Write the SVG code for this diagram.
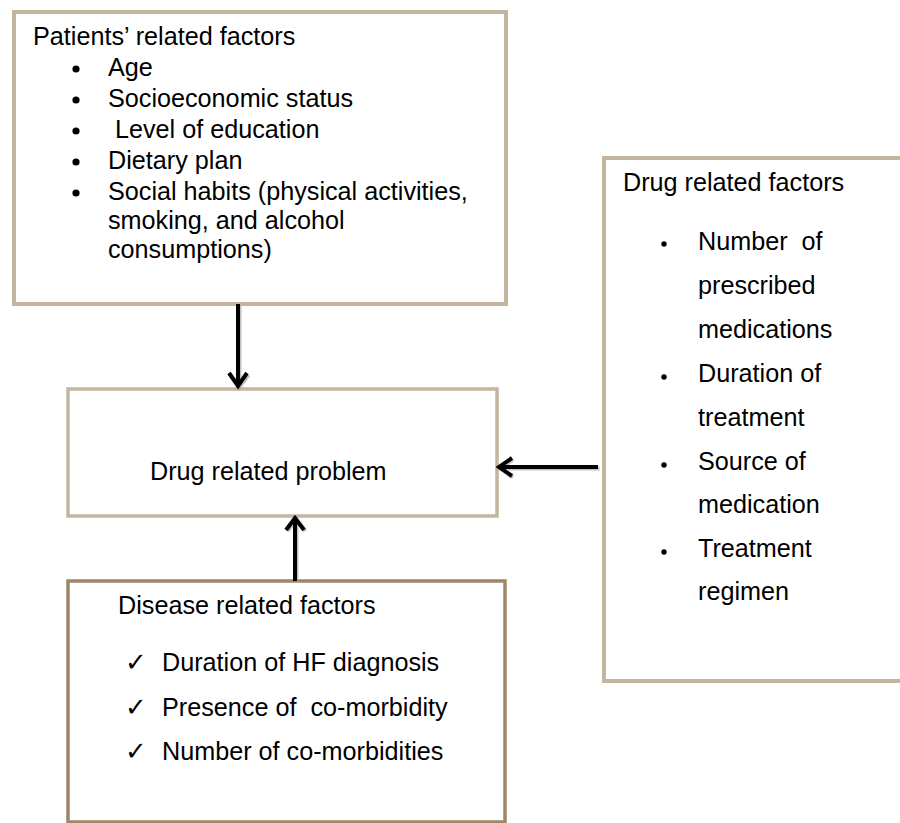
<svg xmlns="http://www.w3.org/2000/svg" width="900" height="823" viewBox="0 0 900 823">
<style>
.t{font-family:"Liberation Sans",Arial,sans-serif;font-size:25.2px;fill:#000;white-space:pre}
.ck{font-family:"DejaVu Sans",sans-serif;font-size:26px;fill:#000}
.dot{fill:#000}
.box{fill:#fff;stroke:#c4b5a0}
.dbox{fill:#fff;stroke:#9f8668;stroke-width:3.5}
.ln{fill:none;stroke:#000;stroke-width:4;stroke-linecap:butt;stroke-linejoin:miter}
.sh{fill:none;stroke:#9a9a9a;stroke-width:4;opacity:0.6}
</style>
<rect width="900" height="823" fill="#fff"/>
<g id="patients">
<rect class="box" x="14" y="12" width="492" height="292" stroke-width="4"/>
<text class="t" x="33" y="45">Patients’ related factors</text>
<circle class="dot" cx="76" cy="69" r="3.6"/><text class="t" x="108" y="76">Age</text>
<circle class="dot" cx="76" cy="100" r="3.6"/><text class="t" x="108" y="107">Socioeconomic status</text>
<circle class="dot" cx="76" cy="131" r="3.6"/><text class="t" x="108" y="138"> Level of education</text>
<circle class="dot" cx="76" cy="162" r="3.6"/><text class="t" x="108" y="169">Dietary plan</text>
<circle class="dot" cx="76" cy="193" r="3.6"/><text class="t" x="108" y="200">Social habits (physical activities,</text>
<text class="t" x="108" y="229">smoking, and alcohol</text>
<text class="t" x="108" y="258">consumptions)</text>
</g>
<g id="drugfactors">
<rect class="box" x="604" y="158" width="310" height="523" stroke-width="4"/>
<text class="t" x="623" y="191">Drug related factors</text>
<circle class="dot" cx="664" cy="244" r="2.7"/><text class="t" x="698" y="250">Number  of</text>
<text class="t" x="698" y="294">prescribed</text>
<text class="t" x="698" y="338">medications</text>
<circle class="dot" cx="664" cy="377" r="2.7"/><text class="t" x="698" y="382">Duration of</text>
<text class="t" x="698" y="426">treatment</text>
<circle class="dot" cx="664" cy="465" r="2.7"/><text class="t" x="698" y="470">Source of</text>
<text class="t" x="698" y="513">medication</text>
<circle class="dot" cx="664" cy="552" r="2.7"/><text class="t" x="698" y="557">Treatment</text>
<text class="t" x="698" y="600">regimen</text>
</g>
<g id="problem">
<rect class="box" x="68" y="389" width="429" height="127" stroke-width="3.5"/>
<text class="t" x="150" y="480">Drug related problem</text>
</g>
<g id="disease">
<rect class="dbox" x="68" y="581" width="437" height="241"/>
<text class="t" x="118" y="614">Disease related factors</text>
<text class="ck" x="125" y="671">✓</text><text class="t" x="162" y="671">Duration of HF diagnosis</text>
<text class="ck" x="125" y="716">✓</text><text class="t" x="162" y="716">Presence of  co-morbidity</text>
<text class="ck" x="125" y="760">✓</text><text class="t" x="162" y="760">Number of co-morbidities</text>
</g>
<g id="connectors">
<path class="sh" d="M239.5 306 V388 M230.5 375 L239.5 387 L248.5 375"/>
<path class="ln" d="M238 304 V387 M229 373 L238 386 L247 373"/>
<path class="sh" d="M599.5 468.5 H500 M513 459.5 L500.5 468.5 L513 477.5"/>
<path class="ln" d="M598 467 H499 M512 458 L499 467 L512 476"/>
<path class="sh" d="M296.5 582 V519 M287.5 531 L296.5 519 L305.5 531"/>
<path class="ln" d="M295 581 V518 M286 530 L295 518 L304 530"/>
</g>
</svg>
